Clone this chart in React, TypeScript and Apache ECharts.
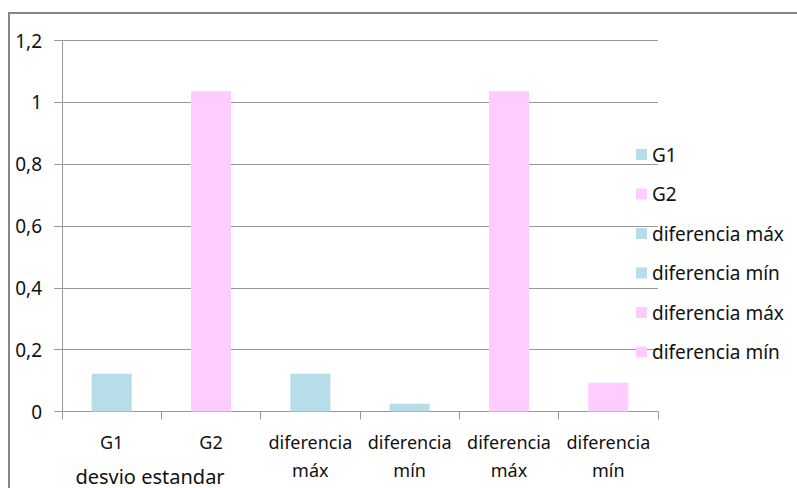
import React, { useEffect, useRef } from "react";
import * as echarts from "echarts";

const categories = ["G1", "G2", "diferencia\nmáx", "diferencia\nmín", "diferencia\nmáx", "diferencia\nmín"];
const seriesLabels = ["G1", "G2", "diferencia máx", "diferencia mín", "diferencia máx", "diferencia mín"];
const seriesValues = [0.122, 1.036, 0.122, 0.025, 1.036, 0.093];
const BLUE = "#B7DDE8";
const PINK = "#FFCCFF";
const seriesColors = [BLUE, PINK, BLUE, BLUE, PINK, PINK];
const groupLabel = "desvio estandar";
const yMin = 0;
const yMax = 1.2;
const yStep = 0.2;

const FONT = "'Noto Sans', 'Open Sans', sans-serif";

export default function App() {
  const ref = useRef<HTMLDivElement>(null);

  useEffect(() => {
    document.body.style.margin = "0";
    if (!ref.current) return;
    const chart = echarts.init(ref.current, null, { renderer: "svg" });
    const keys = seriesLabels.map((_, i) => `s${i}`);
    const series = seriesValues.map((v, i) => ({
      name: keys[i],
      type: "bar",
      stack: "all",
      barWidth: 40,
      itemStyle: { color: seriesColors[i] },
      data: categories.map((_, j) => (j === i ? v : null)),
    }));

    chart.setOption({
      animation: false,
      backgroundColor: "#ffffff",
      textStyle: { fontFamily: FONT },
      grid: { left: 62, right: 139, top: 40.5, bottom: 76.5, containLabel: false },
      legend: {
        orient: "vertical",
        left: 631,
        top: 140,
        itemWidth: 11,
        itemHeight: 11,
        itemGap: 20.5,
        icon: "rect",
        data: keys,
        formatter: (name: string) => seriesLabels[keys.indexOf(name)],
        textStyle: { fontSize: 19, color: "#111", fontFamily: FONT, lineHeight: 19 },
      },
      xAxis: {
        type: "category",
        data: categories,
        axisLine: { show: true, lineStyle: { color: "#999", width: 1 } },
        axisTick: { show: true, length: 8, lineStyle: { color: "#999" } },
        axisLabel: {
          interval: 0,
          margin: 16,
          fontSize: 18,
          lineHeight: 28,
          color: "#111",
          fontFamily: FONT,
        },
      },
      yAxis: {
        type: "value",
        min: yMin,
        max: yMax,
        interval: yStep,
        axisLine: { show: true, lineStyle: { color: "#999", width: 1 } },
        axisTick: { show: true, length: 8, lineStyle: { color: "#999" } },
        splitLine: { show: true, lineStyle: { color: "#999", width: 1 } },
        axisLabel: {
          margin: 20,
          fontSize: 19,
          color: "#111",
          fontFamily: FONT,
          formatter: (v: number) => String(Math.round(v * 10) / 10).replace(".", ","),
        },
      },
      graphic: [
        {
          type: "rect",
          shape: { x: 9, y: 13, width: 800, height: 490 },
          style: { fill: "none", stroke: "#868686", lineWidth: 2 },
          silent: true,
        },
        {
          type: "text",
          x: 150,
          y: 476,
          style: {
            text: groupLabel,
            fontSize: 20,
            lineHeight: 20,
            fontFamily: FONT,
            fill: "#111",
            align: "center",
            verticalAlign: "middle",
          },
        },
      ],
      series,
    });
    return () => chart.dispose();
  }, []);

  return (
    <div
      ref={ref}
      style={{ position: "absolute", left: 0, top: 0, width: 797, height: 488 }}
    />
  );
}
